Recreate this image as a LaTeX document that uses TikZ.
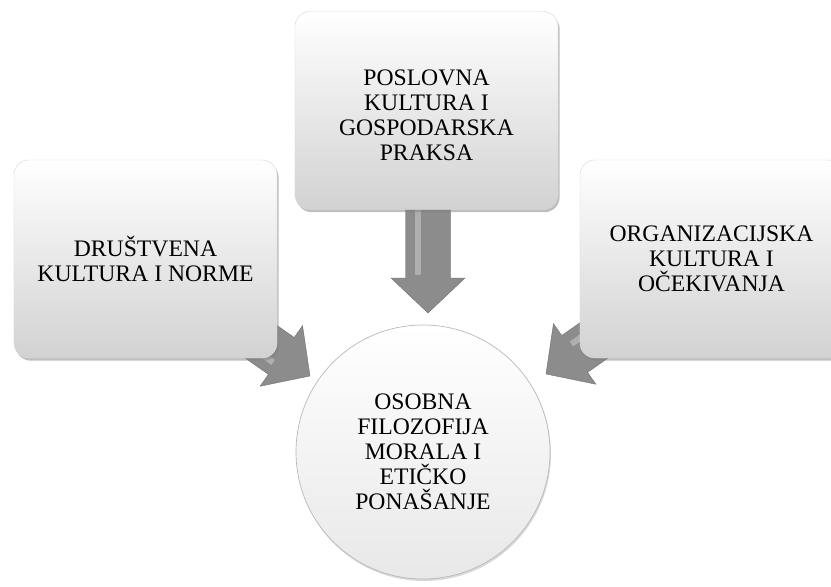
\documentclass[tikz,border=0pt]{standalone}
\usepackage{fontspec}
\setmainfont{Liberation Serif}
\usetikzlibrary{shadows}
\definecolor{arrowgray}{RGB}{140,140,140}
\definecolor{arrowlight}{RGB}{190,190,190}
\definecolor{arrowdark}{RGB}{105,105,105}
\definecolor{boxedge}{RGB}{218,218,218}
\definecolor{boxbottom}{RGB}{210,210,210}
\tikzset{
  infobox/.style={rectangle, rounded corners=0.45cm, draw=boxedge,
    top color=white, bottom color=boxbottom,
    minimum width=7.89cm, minimum height=5.94cm, align=center,
    font=\fontsize{20.2}{21.3}\selectfont, line width=0.4pt,
    drop shadow={shadow xshift=0.05cm, shadow yshift=-0.08cm, opacity=0.5}},
  boxtext/.style={align=center, font=\fontsize{20.2}{21.3}\selectfont},
  corecircle/.style={circle, draw=gray!55, top color=white, bottom color=gray!18,
    minimum size=7.62cm, inner sep=0pt, align=center,
    font=\fontsize{20.2}{21.3}\selectfont, line width=0.6pt,
    drop shadow={shadow xshift=0.03cm, shadow yshift=-0.06cm, opacity=0.3}},
  arrowbody/.style={fill=arrowgray, draw=arrowdark, line width=0.3pt},
  arrowshine/.style={fill=arrowlight, opacity=0.7}
}
% block arrow: tip, direction, length
\newcommand{\fatarrow}[3]{%
  \begin{scope}[shift={(#1)}, rotate=#2]
    \path[arrowbody] (0,0) -- (-35,37) -- (-35,22.5) -- (-#3,22.5)
      -- (-#3,-22.5) -- (-35,-22.5) -- (-35,-37) -- cycle;
    \path[arrowshine] (-#3,13) -- (-38,13) -- (-38,7) -- (-#3,7) -- cycle;
  \end{scope}}

\begin{document}
\begin{tikzpicture}[x=0.03cm, y=-0.03cm]
  \useasboundingbox (0,0) rectangle (831,587);
  % arrow tips
  \coordinate (tipL) at (310,376);
  \coordinate (tipT) at (428,313);
  \coordinate (tipR) at (546,374);
  % arrows behind the boxes
  \fatarrow{tipL}{-35}{100}
  \fatarrow{tipT}{-90}{110}
  \fatarrow{tipR}{215}{100}
  % boxes
  \node[infobox] (drustvo) at (145.5,259) {DRUŠTVENA\\KULTURA I NORME};
  \node[infobox] (posao) at (426.5,110.5) {};
  \node[boxtext] (posaotext) at ([yshift=-0.15cm]posao.center) {POSLOVNA\\KULTURA I\\GOSPODARSKA\\PRAKSA};
  \node[infobox] (organizacija) at (711.5,259) {ORGANIZACIJSKA\\KULTURA I\\OČEKIVANJA};
  % centre
  \node[corecircle] (osoba) at (423,452) {OSOBNA\\FILOZOFIJA\\MORALA I\\ETIČKO\\PONAŠANJE};
\end{tikzpicture}
\end{document}
